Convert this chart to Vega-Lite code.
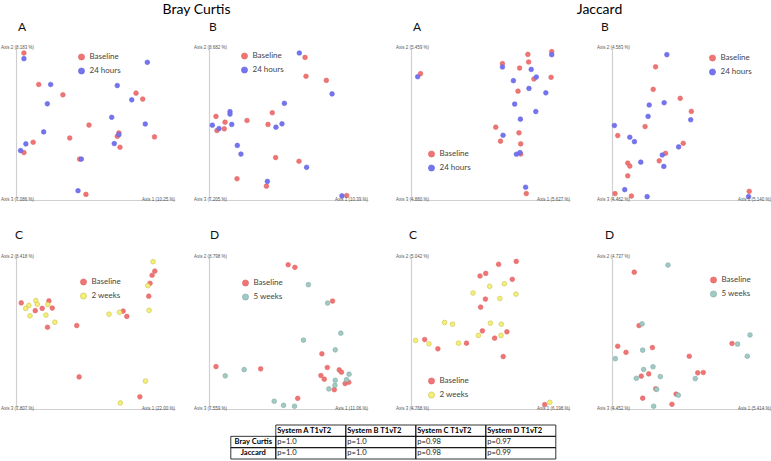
{
"$schema":"https://vega.github.io/schema/vega-lite/v6.json",
"padding":{"left":1,"top":3,"right":0,"bottom":0},
"background":"white",
"config":{
 "view":{"stroke":null},
 "axis":{"domainColor":"#d0d0d0","domainWidth":1.2,"ticks":false,"labels":false,"grid":false},
 "title":{"anchor":"start","frame":"group","font":"Lato","fontSize":12,"fontWeight":"normal","offset":11,"color":"#111"},
 "legend":{"orient":"none","title":null,"symbolType":"circle","symbolSize":38,"symbolStrokeWidth":0,"labelFont":"Lato","labelFontSize":8,"labelColor":"#444","rowPadding":4,"padding":0,"labelOffset":4},
 "text":{"font":"Liberation Sans","fontSize":4.5,"fill":"#555","baseline":"middle"},
 "circle":{"size":22,"opacity":1,"strokeWidth":0.6}
},
"datasets":{
 "bca":[{"x":4.98,"y":96.7,"g":"Baseline"},{"x":14.3,"y":76.0,"g":"Baseline"},{"x":29.5,"y":69.2,"g":"Baseline"},{"x":75.5,"y":70.3,"g":"Baseline"},{"x":79.7,"y":66.4,"g":"Baseline"},{"x":45.9,"y":49.3,"g":"Baseline"},{"x":64.7,"y":44.1,"g":"Baseline"},{"x":63.7,"y":41.9,"g":"Baseline"},{"x":33.8,"y":40.8,"g":"Baseline"},{"x":10.8,"y":38.0,"g":"Baseline"},{"x":87.1,"y":41.5,"g":"Baseline"},{"x":65.4,"y":34.7,"g":"Baseline"},{"x":5.0,"y":31.2,"g":"Baseline"},{"x":40.0,"y":26.9,"g":"Baseline"},{"x":44.0,"y":3.7,"g":"Baseline"},
  {"x":5.0,"y":93.0,"g":"24 hours"},{"x":21.8,"y":76.0,"g":"24 hours"},{"x":82.6,"y":90.6,"g":"24 hours"},{"x":63.7,"y":75.3,"g":"24 hours"},{"x":72.8,"y":65.9,"g":"24 hours"},{"x":19.7,"y":63.3,"g":"24 hours"},{"x":60.2,"y":54.4,"g":"24 hours"},{"x":81.3,"y":50.0,"g":"24 hours"},{"x":17.4,"y":44.8,"g":"24 hours"},{"x":64.7,"y":43.0,"g":"24 hours"},{"x":6.2,"y":36.9,"g":"24 hours"},{"x":61.8,"y":37.1,"g":"24 hours"},{"x":2.9,"y":32.5,"g":"24 hours"},{"x":41.1,"y":26.9,"g":"24 hours"},{"x":39.0,"y":6.1,"g":"24 hours"}],
 "bcb":[{"x":60.4,"y":93.8,"g":"Baseline"},{"x":61.0,"y":81.4,"g":"Baseline"},{"x":73.8,"y":78.7,"g":"Baseline"},{"x":4.4,"y":55.0,"g":"Baseline"},{"x":39.8,"y":57.4,"g":"Baseline"},{"x":23.9,"y":52.3,"g":"Baseline"},{"x":10.1,"y":51.2,"g":"Baseline"},{"x":37.1,"y":49.7,"g":"Baseline"},{"x":9.6,"y":46.8,"g":"Baseline"},{"x":5.0,"y":45.7,"g":"Baseline"},{"x":41.9,"y":27.9,"g":"Baseline"},{"x":56.6,"y":25.5,"g":"Baseline"},{"x":17.6,"y":14.0,"g":"Baseline"},{"x":36.1,"y":9.1,"g":"Baseline"},{"x":86.6,"y":2.9,"g":"Baseline"},
  {"x":56.8,"y":96.7,"g":"24 hours"},{"x":77.4,"y":69.8,"g":"24 hours"},{"x":47.4,"y":63.6,"g":"24 hours"},{"x":13.2,"y":58.1,"g":"24 hours"},{"x":13.2,"y":56.5,"g":"24 hours"},{"x":2.1,"y":49.2,"g":"24 hours"},{"x":14.3,"y":49.7,"g":"24 hours"},{"x":6.3,"y":47.0,"g":"24 hours"},{"x":42.1,"y":47.9,"g":"24 hours"},{"x":45.9,"y":50.1,"g":"24 hours"},{"x":17.8,"y":35.9,"g":"24 hours"},{"x":20.1,"y":30.2,"g":"24 hours"},{"x":61.4,"y":21.5,"g":"24 hours"},{"x":36.7,"y":12.2,"g":"24 hours"},{"x":83.6,"y":2.7,"g":"24 hours"}],
 "ja":[{"x":73.5,"y":95.8,"g":"Baseline"},{"x":88.5,"y":97.6,"g":"Baseline"},{"x":57.5,"y":89.7,"g":"Baseline"},{"x":74.0,"y":90.8,"g":"Baseline"},{"x":68.3,"y":86.8,"g":"Baseline"},{"x":77.3,"y":79.6,"g":"Baseline"},{"x":88.1,"y":80.7,"g":"Baseline"},{"x":6.0,"y":83.1,"g":"Baseline"},{"x":67.3,"y":71.6,"g":"Baseline"},{"x":53.3,"y":47.9,"g":"Baseline"},{"x":67.9,"y":44.2,"g":"Baseline"},{"x":56.3,"y":38.7,"g":"Baseline"},{"x":69.0,"y":36.9,"g":"Baseline"},{"x":69.0,"y":30.3,"g":"Baseline"},{"x":72.5,"y":4.2,"g":"Baseline"},
  {"x":88.5,"y":95.6,"g":"24 hours"},{"x":57.5,"y":87.5,"g":"24 hours"},{"x":75.6,"y":85.9,"g":"24 hours"},{"x":78.8,"y":80.9,"g":"24 hours"},{"x":64.4,"y":78.5,"g":"24 hours"},{"x":4.2,"y":81.1,"g":"24 hours"},{"x":74.2,"y":73.4,"g":"24 hours"},{"x":84.8,"y":70.5,"g":"24 hours"},{"x":65.2,"y":63.1,"g":"24 hours"},{"x":78.5,"y":58.2,"g":"24 hours"},{"x":68.8,"y":53.2,"g":"24 hours"},{"x":57.9,"y":42.6,"g":"24 hours"},{"x":68.5,"y":31.2,"g":"24 hours"},{"x":66.3,"y":30.1,"g":"24 hours"},{"x":72.1,"y":8.4,"g":"24 hours"}],
 "jb":[{"x":27.4,"y":87.6,"g":"Baseline"},{"x":25.9,"y":72.8,"g":"Baseline"},{"x":42.9,"y":66.9,"g":"Baseline"},{"x":49.9,"y":58.3,"g":"Baseline"},{"x":20.8,"y":48.3,"g":"Baseline"},{"x":3.6,"y":42.4,"g":"Baseline"},{"x":44.8,"y":37.3,"g":"Baseline"},{"x":33.7,"y":30.7,"g":"Baseline"},{"x":29.7,"y":25.8,"g":"Baseline"},{"x":9.9,"y":24.3,"g":"Baseline"},{"x":11.2,"y":22.3,"g":"Baseline"},{"x":9.9,"y":15.9,"g":"Baseline"},{"x":1.9,"y":4.2,"g":"Baseline"},{"x":12.2,"y":2.6,"g":"Baseline"},{"x":86.3,"y":5.7,"g":"Baseline"},
  {"x":34.5,"y":95.6,"g":"24 hours"},{"x":32.8,"y":64.0,"g":"24 hours"},{"x":23.4,"y":62.5,"g":"24 hours"},{"x":22.7,"y":55.0,"g":"24 hours"},{"x":49.5,"y":52.8,"g":"24 hours"},{"x":1.5,"y":49.0,"g":"24 hours"},{"x":11.2,"y":41.3,"g":"24 hours"},{"x":14.1,"y":38.4,"g":"24 hours"},{"x":41.9,"y":34.9,"g":"24 hours"},{"x":31.6,"y":29.6,"g":"24 hours"},{"x":18.1,"y":24.9,"g":"24 hours"},{"x":32.6,"y":22.1,"g":"24 hours"},{"x":8.0,"y":6.8,"g":"24 hours"},{"x":22.1,"y":2.2,"g":"24 hours"},{"x":85.9,"y":2.2,"g":"24 hours"}],
 "bcc":[{"x":3.3,"y":69.8,"g":"Baseline"},{"x":20.7,"y":71.1,"g":"Baseline"},{"x":12.1,"y":64.7,"g":"Baseline"},{"x":16.5,"y":66.2,"g":"Baseline"},{"x":22.8,"y":66.4,"g":"Baseline"},{"x":19.8,"y":53.8,"g":"Baseline"},{"x":38.2,"y":54.9,"g":"Baseline"},{"x":87.3,"y":90.7,"g":"Baseline"},{"x":85.6,"y":88.0,"g":"Baseline"},{"x":84.3,"y":82.7,"g":"Baseline"},{"x":83.5,"y":74.2,"g":"Baseline"},{"x":67.4,"y":64.4,"g":"Baseline"},{"x":69.7,"y":60.9,"g":"Baseline"},{"x":39.7,"y":21.1,"g":"Baseline"},{"x":77.9,"y":8.0,"g":"Baseline"},
  {"x":86.2,"y":96.9,"g":"2 weeks"},{"x":82.9,"y":81.1,"g":"2 weeks"},{"x":83.7,"y":64.9,"g":"2 weeks"},{"x":8.1,"y":68.2,"g":"2 weeks"},{"x":6.1,"y":66.2,"g":"2 weeks"},{"x":12.5,"y":71.3,"g":"2 weeks"},{"x":13.4,"y":68.9,"g":"2 weeks"},{"x":20.0,"y":68.7,"g":"2 weeks"},{"x":8.8,"y":61.3,"g":"2 weeks"},{"x":18.8,"y":61.8,"g":"2 weeks"},{"x":24.4,"y":57.1,"g":"2 weeks"},{"x":58.5,"y":62.4,"g":"2 weeks"},{"x":65.1,"y":63.6,"g":"2 weeks"},{"x":81.4,"y":18.4,"g":"2 weeks"},{"x":65.6,"y":4.0,"g":"2 weeks"}],
 "bcd":[{"x":49.8,"y":94.9,"g":"Baseline"},{"x":54.0,"y":93.2,"g":"Baseline"},{"x":77.7,"y":71.0,"g":"Baseline"},{"x":71.0,"y":36.3,"g":"Baseline"},{"x":74.4,"y":27.3,"g":"Baseline"},{"x":81.9,"y":25.7,"g":"Baseline"},{"x":83.3,"y":24.2,"g":"Baseline"},{"x":70.4,"y":22.0,"g":"Baseline"},{"x":72.5,"y":19.6,"g":"Baseline"},{"x":85.6,"y":16.7,"g":"Baseline"},{"x":87.9,"y":17.6,"g":"Baseline"},{"x":78.8,"y":12.7,"g":"Baseline"},{"x":4.4,"y":27.9,"g":"Baseline"},{"x":32.5,"y":26.4,"g":"Baseline"},{"x":55.8,"y":7.0,"g":"Baseline"},
  {"x":62.5,"y":81.8,"g":"5 weeks"},{"x":74.6,"y":69.7,"g":"5 weeks"},{"x":82.9,"y":49.9,"g":"5 weeks"},{"x":59.4,"y":45.3,"g":"5 weeks"},{"x":79.4,"y":38.9,"g":"5 weeks"},{"x":22.1,"y":25.9,"g":"5 weeks"},{"x":10.2,"y":21.8,"g":"5 weeks"},{"x":88.1,"y":22.9,"g":"5 weeks"},{"x":86.5,"y":19.3,"g":"5 weeks"},{"x":79.4,"y":18.9,"g":"5 weeks"},{"x":79.2,"y":15.6,"g":"5 weeks"},{"x":75.4,"y":13.2,"g":"5 weeks"},{"x":41.0,"y":5.1,"g":"5 weeks"},{"x":46.9,"y":2.4,"g":"5 weeks"},{"x":53.8,"y":1.8,"g":"5 weeks"}],
 "jc":[{"x":55.1,"y":95.2,"g":"Baseline"},{"x":66.2,"y":97.1,"g":"Baseline"},{"x":43.4,"y":87.5,"g":"Baseline"},{"x":47.0,"y":89.2,"g":"Baseline"},{"x":63.7,"y":85.3,"g":"Baseline"},{"x":46.8,"y":72.3,"g":"Baseline"},{"x":43.8,"y":67.0,"g":"Baseline"},{"x":44.9,"y":51.4,"g":"Baseline"},{"x":60.3,"y":50.8,"g":"Baseline"},{"x":52.6,"y":46.6,"g":"Baseline"},{"x":58.0,"y":34.5,"g":"Baseline"},{"x":8.6,"y":45.7,"g":"Baseline"},{"x":16.9,"y":39.6,"g":"Baseline"},{"x":34.9,"y":43.3,"g":"Baseline"},{"x":84.1,"y":2.9,"g":"Baseline"},
  {"x":49.5,"y":80.7,"g":"2 weeks"},{"x":58.7,"y":82.4,"g":"2 weeks"},{"x":39.0,"y":76.3,"g":"2 weeks"},{"x":66.0,"y":75.6,"g":"2 weeks"},{"x":55.9,"y":72.7,"g":"2 weeks"},{"x":21.1,"y":56.9,"g":"2 weeks"},{"x":26.1,"y":55.8,"g":"2 weeks"},{"x":49.9,"y":56.5,"g":"2 weeks"},{"x":56.8,"y":55.8,"g":"2 weeks"},{"x":42.4,"y":48.4,"g":"2 weeks"},{"x":56.6,"y":48.4,"g":"2 weeks"},{"x":2.9,"y":45.1,"g":"2 weeks"},{"x":11.3,"y":42.9,"g":"2 weeks"},{"x":29.9,"y":43.3,"g":"2 weeks"},{"x":87.3,"y":4.4,"g":"2 weeks"}],
 "jd":[{"x":14.0,"y":90.0,"g":"Baseline"},{"x":17.0,"y":54.9,"g":"Baseline"},{"x":3.6,"y":41.3,"g":"Baseline"},{"x":8.8,"y":37.3,"g":"Baseline"},{"x":25.4,"y":40.4,"g":"Baseline"},{"x":48.6,"y":34.7,"g":"Baseline"},{"x":75.5,"y":43.1,"g":"Baseline"},{"x":53.9,"y":23.8,"g":"Baseline"},{"x":57.4,"y":24.0,"g":"Baseline"},{"x":18.4,"y":21.6,"g":"Baseline"},{"x":23.1,"y":23.1,"g":"Baseline"},{"x":27.5,"y":13.3,"g":"Baseline"},{"x":19.3,"y":7.1,"g":"Baseline"},{"x":40.3,"y":9.8,"g":"Baseline"},{"x":37.7,"y":3.1,"g":"Baseline"},
  {"x":35.2,"y":94.7,"g":"5 weeks"},{"x":18.9,"y":56.0,"g":"5 weeks"},{"x":86.8,"y":48.7,"g":"5 weeks"},{"x":79.0,"y":42.7,"g":"5 weeks"},{"x":85.1,"y":34.7,"g":"5 weeks"},{"x":19.3,"y":38.7,"g":"5 weeks"},{"x":2.1,"y":33.1,"g":"5 weeks"},{"x":19.9,"y":26.0,"g":"5 weeks"},{"x":25.8,"y":27.8,"g":"5 weeks"},{"x":30.4,"y":21.3,"g":"5 weeks"},{"x":15.3,"y":20.2,"g":"5 weeks"},{"x":52.4,"y":20.0,"g":"5 weeks"},{"x":28.1,"y":12.9,"g":"5 weeks"},{"x":41.7,"y":9.1,"g":"5 weeks"},{"x":26.2,"y":1.8,"g":"5 weeks"}],
 "tbl":[{"col":"A","row":"hdr","t":"System A T1vT2"},{"col":"B","row":"hdr","t":"System B T1vT2"},{"col":"C","row":"hdr","t":"System C T1vT2"},{"col":"D","row":"hdr","t":"System D T1vT2"},
  {"col":"A","row":"Bray Curtis","t":"p=1.0"},{"col":"B","row":"Bray Curtis","t":"p=1.0"},{"col":"C","row":"Bray Curtis","t":"p=0.98"},{"col":"D","row":"Bray Curtis","t":"p=0.97"},
  {"col":"A","row":"Jaccard","t":"p=1.0"},{"col":"B","row":"Jaccard","t":"p=1.0"},{"col":"C","row":"Jaccard","t":"p=0.98"},{"col":"D","row":"Jaccard","t":"p=0.99"}]
},
"vconcat":[
 {"hconcat":[
  {"title":{"text":"Bray Curtis","anchor":"middle","frame":"bounds","fontSize":14,"offset":4,"dx":12,"color":"#000"},
   "vconcat":[
    {"hconcat":[
     {"width":159,"height":152,"title":{"text":"A","dx":2},
      "layer":[
       {"data":{"name":"bca"},"mark":"circle","encoding":{
        "x":{"field":"x","type":"quantitative","scale":{"domain":[0,100],"nice":false,"zero":false},"axis":{"title":null}},
        "y":{"field":"y","type":"quantitative","scale":{"domain":[0,100],"nice":false,"zero":false},"axis":{"title":null}},
        "color":{"field":"g","type":"nominal","scale":{"domain":["Baseline","24 hours"],"range":["#ef7474","#7474ee"]},"legend":{"legendX":61.5,"legendY":5}},
        "stroke":{"field":"g","type":"nominal","scale":{"domain":["Baseline","24 hours"],"range":["#e26666","#6666e0"]},"legend":null}}},
       {"data":{"values":[{"t":"Axis 2 (8.183 %)","v":100},{"t":"Axis 3 (7.086 %)","v":0}]},"mark":{"type":"text","align":"left","dx":-15},
        "encoding":{"x":{"datum":0,"type":"quantitative"},"y":{"field":"v","type":"quantitative"},"text":{"field":"t"}}},
       {"data":{"values":[{"t":"Axis 1 (10.25 %)"}]},"mark":{"type":"text","align":"right"},
        "encoding":{"x":{"datum":100,"type":"quantitative"},"y":{"datum":0,"type":"quantitative"},"text":{"field":"t"}}}
      ]},
     {"width":159,"height":152,"title":{"text":"B","dx":0},
      "layer":[
       {"data":{"name":"bcb"},"mark":"circle","encoding":{
        "x":{"field":"x","type":"quantitative","scale":{"domain":[0,100],"nice":false,"zero":false},"axis":{"title":null}},
        "y":{"field":"y","type":"quantitative","scale":{"domain":[0,100],"nice":false,"zero":false},"axis":{"title":null}},
        "color":{"field":"g","type":"nominal","scale":{"domain":["Baseline","24 hours"],"range":["#ef7474","#7474ee"]},"legend":{"legendX":31.5,"legendY":4}},
        "stroke":{"field":"g","type":"nominal","scale":{"domain":["Baseline","24 hours"],"range":["#e26666","#6666e0"]},"legend":null}}},
       {"data":{"values":[{"t":"Axis 2 (8.682 %)","v":100},{"t":"Axis 3 (7.205 %)","v":0}]},"mark":{"type":"text","align":"left","dx":-15},
        "encoding":{"x":{"datum":0,"type":"quantitative"},"y":{"field":"v","type":"quantitative"},"text":{"field":"t"}}},
       {"data":{"values":[{"t":"Axis 1 (10.39 %)"}]},"mark":{"type":"text","align":"right"},
        "encoding":{"x":{"datum":100,"type":"quantitative"},"y":{"datum":0,"type":"quantitative"},"text":{"field":"t"}}}
      ]}
    ],"spacing":34,"bounds":"flush","resolve":{"scale":{"color":"independent","stroke":"independent"},"legend":{"color":"independent","stroke":"independent"}}},
    {"hconcat":[
     {"width":159,"height":152,"title":{"text":"C","dx":-1,"offset":12},
      "layer":[
       {"data":{"name":"bcc"},"mark":"circle","encoding":{
        "x":{"field":"x","type":"quantitative","scale":{"domain":[0,100],"nice":false,"zero":false},"axis":{"title":null}},
        "y":{"field":"y","type":"quantitative","scale":{"domain":[0,100],"nice":false,"zero":false},"axis":{"title":null}},
        "color":{"field":"g","type":"nominal","scale":{"domain":["Baseline","2 weeks"],"range":["#ef7474","#f4ef78"]},"legend":{"legendX":63.5,"legendY":21}},
        "stroke":{"field":"g","type":"nominal","scale":{"domain":["Baseline","2 weeks"],"range":["#e26666","#c9c24a"]},"legend":null}}},
       {"data":{"values":[{"t":"Axis 2 (8.418 %)","v":100},{"t":"Axis 3 (7.807 %)","v":0}]},"mark":{"type":"text","align":"left","dx":-15},
        "encoding":{"x":{"datum":0,"type":"quantitative"},"y":{"field":"v","type":"quantitative"},"text":{"field":"t"}}},
       {"data":{"values":[{"t":"Axis 1 (22.00 %)"}]},"mark":{"type":"text","align":"right"},
        "encoding":{"x":{"datum":100,"type":"quantitative"},"y":{"datum":0,"type":"quantitative"},"text":{"field":"t"}}}
      ]},
     {"width":159,"height":152,"title":{"text":"D","dx":1,"offset":12},
      "layer":[
       {"data":{"name":"bcd"},"mark":"circle","encoding":{
        "x":{"field":"x","type":"quantitative","scale":{"domain":[0,100],"nice":false,"zero":false},"axis":{"title":null}},
        "y":{"field":"y","type":"quantitative","scale":{"domain":[0,100],"nice":false,"zero":false},"axis":{"title":null}},
        "color":{"field":"g","type":"nominal","scale":{"domain":["Baseline","5 weeks"],"range":["#ef7474","#a2cac5"]},"legend":{"legendX":32.5,"legendY":22}},
        "stroke":{"field":"g","type":"nominal","scale":{"domain":["Baseline","5 weeks"],"range":["#e26666","#80aaa4"]},"legend":null}}},
       {"data":{"values":[{"t":"Axis 2 (8.798 %)","v":100},{"t":"Axis 3 (7.559 %)","v":0}]},"mark":{"type":"text","align":"left","dx":-15},
        "encoding":{"x":{"datum":0,"type":"quantitative"},"y":{"field":"v","type":"quantitative"},"text":{"field":"t"}}},
       {"data":{"values":[{"t":"Axis 1 (11.06 %)"}]},"mark":{"type":"text","align":"right"},
        "encoding":{"x":{"datum":100,"type":"quantitative"},"y":{"datum":0,"type":"quantitative"},"text":{"field":"t"}}}
      ]}
    ],"spacing":34,"bounds":"flush","resolve":{"scale":{"color":"independent","stroke":"independent"},"legend":{"color":"independent","stroke":"independent"}}}
   ],"spacing":27,"resolve":{"scale":{"color":"independent","stroke":"independent"},"legend":{"color":"independent","stroke":"independent"}}},
  {"title":{"text":"Jaccard","anchor":"middle","frame":"bounds","fontSize":14,"offset":4,"dx":16,"color":"#000"},
   "vconcat":[
    {"hconcat":[
     {"width":159,"height":152,"title":{"text":"A","dx":2},
      "layer":[
       {"data":{"name":"ja"},"mark":"circle","encoding":{
        "x":{"field":"x","type":"quantitative","scale":{"domain":[0,100],"nice":false,"zero":false},"axis":{"title":null}},
        "y":{"field":"y","type":"quantitative","scale":{"domain":[0,100],"nice":false,"zero":false},"axis":{"title":null}},
        "color":{"field":"g","type":"nominal","scale":{"domain":["Baseline","24 hours"],"range":["#ef7474","#7474ee"]},"legend":{"legendX":16.5,"legendY":102}},
        "stroke":{"field":"g","type":"nominal","scale":{"domain":["Baseline","24 hours"],"range":["#e26666","#6666e0"]},"legend":null}}},
       {"data":{"values":[{"t":"Axis 2 (5.459 %)","v":100},{"t":"Axis 3 (4.880 %)","v":0}]},"mark":{"type":"text","align":"left","dx":-15},
        "encoding":{"x":{"datum":0,"type":"quantitative"},"y":{"field":"v","type":"quantitative"},"text":{"field":"t"}}},
       {"data":{"values":[{"t":"Axis 1 (5.627 %)"}]},"mark":{"type":"text","align":"right"},
        "encoding":{"x":{"datum":100,"type":"quantitative"},"y":{"datum":0,"type":"quantitative"},"text":{"field":"t"}}}
      ]},
     {"width":159,"height":152,"title":{"text":"B","dx":-11},
      "layer":[
       {"data":{"name":"jb"},"mark":"circle","encoding":{
        "x":{"field":"x","type":"quantitative","scale":{"domain":[0,100],"nice":false,"zero":false},"axis":{"title":null}},
        "y":{"field":"y","type":"quantitative","scale":{"domain":[0,100],"nice":false,"zero":false},"axis":{"title":null}},
        "color":{"field":"g","type":"nominal","scale":{"domain":["Baseline","24 hours"],"range":["#ef7474","#7474ee"]},"legend":{"legendX":96.5,"legendY":6}},
        "stroke":{"field":"g","type":"nominal","scale":{"domain":["Baseline","24 hours"],"range":["#e26666","#6666e0"]},"legend":null}}},
       {"data":{"values":[{"t":"Axis 2 (4.583 %)","v":100},{"t":"Axis 3 (4.462 %)","v":0}]},"mark":{"type":"text","align":"left","dx":-15},
        "encoding":{"x":{"datum":0,"type":"quantitative"},"y":{"field":"v","type":"quantitative"},"text":{"field":"t"}}},
       {"data":{"values":[{"t":"Axis 1 (5.140 %)"}]},"mark":{"type":"text","align":"right"},
        "encoding":{"x":{"datum":100,"type":"quantitative"},"y":{"datum":0,"type":"quantitative"},"text":{"field":"t"}}}
      ]}
    ],"spacing":42,"bounds":"flush","resolve":{"scale":{"color":"independent","stroke":"independent"},"legend":{"color":"independent","stroke":"independent"}}},
    {"hconcat":[
     {"width":159,"height":152,"title":{"text":"C","dx":-2,"offset":12},
      "layer":[
       {"data":{"name":"jc"},"mark":"circle","encoding":{
        "x":{"field":"x","type":"quantitative","scale":{"domain":[0,100],"nice":false,"zero":false},"axis":{"title":null}},
        "y":{"field":"y","type":"quantitative","scale":{"domain":[0,100],"nice":false,"zero":false},"axis":{"title":null}},
        "color":{"field":"g","type":"nominal","scale":{"domain":["Baseline","2 weeks"],"range":["#ef7474","#f4ef78"]},"legend":{"legendX":16.5,"legendY":120}},
        "stroke":{"field":"g","type":"nominal","scale":{"domain":["Baseline","2 weeks"],"range":["#e26666","#c9c24a"]},"legend":null}}},
       {"data":{"values":[{"t":"Axis 2 (5.042 %)","v":100},{"t":"Axis 3 (4.768 %)","v":0}]},"mark":{"type":"text","align":"left","dx":-15},
        "encoding":{"x":{"datum":0,"type":"quantitative"},"y":{"field":"v","type":"quantitative"},"text":{"field":"t"}}},
       {"data":{"values":[{"t":"Axis 1 (6.198 %)"}]},"mark":{"type":"text","align":"right"},
        "encoding":{"x":{"datum":100,"type":"quantitative"},"y":{"datum":0,"type":"quantitative"},"text":{"field":"t"}}}
      ]},
     {"width":159,"height":152,"title":{"text":"D","dx":-7,"offset":12},
      "layer":[
       {"data":{"name":"jd"},"mark":"circle","encoding":{
        "x":{"field":"x","type":"quantitative","scale":{"domain":[0,100],"nice":false,"zero":false},"axis":{"title":null}},
        "y":{"field":"y","type":"quantitative","scale":{"domain":[0,100],"nice":false,"zero":false},"axis":{"title":null}},
        "color":{"field":"g","type":"nominal","scale":{"domain":["Baseline","5 weeks"],"range":["#ef7474","#a2cac5"]},"legend":{"legendX":97.5,"legendY":19}},
        "stroke":{"field":"g","type":"nominal","scale":{"domain":["Baseline","5 weeks"],"range":["#e26666","#80aaa4"]},"legend":null}}},
       {"data":{"values":[{"t":"Axis 2 (4.737 %)","v":100},{"t":"Axis 3 (4.452 %)","v":0}]},"mark":{"type":"text","align":"left","dx":-15},
        "encoding":{"x":{"datum":0,"type":"quantitative"},"y":{"field":"v","type":"quantitative"},"text":{"field":"t"}}},
       {"data":{"values":[{"t":"Axis 1 (5.414 %)"}]},"mark":{"type":"text","align":"right"},
        "encoding":{"x":{"datum":100,"type":"quantitative"},"y":{"datum":0,"type":"quantitative"},"text":{"field":"t"}}}
      ]}
    ],"spacing":42,"bounds":"flush","resolve":{"scale":{"color":"independent","stroke":"independent"},"legend":{"color":"independent","stroke":"independent"}}}
   ],"spacing":27,"resolve":{"scale":{"color":"independent","stroke":"independent"},"legend":{"color":"independent","stroke":"independent"}}}
 ],"spacing":28,"resolve":{"scale":{"color":"independent","stroke":"independent"},"legend":{"color":"independent","stroke":"independent"}}},
 {"hconcat":[
  {"width":45,"height":34,"data":{"values":[{"row":"Bray Curtis"},{"row":"Jaccard"}]},
   "encoding":{"y":{"field":"row","type":"nominal","scale":{"domain":["hdr","Bray Curtis","Jaccard"],"paddingInner":0,"paddingOuter":0},"axis":null}},
   "layer":[
    {"mark":{"type":"rect","fill":"transparent","stroke":"#000","strokeWidth":0.8}},
    {"mark":{"type":"text","font":"Lato","fontSize":7.6,"fontWeight":"bold","fill":"#000","align":"center"},"encoding":{"text":{"field":"row"}}}
   ]},
  {"width":280,"height":34,"data":{"name":"tbl"},
   "encoding":{
    "x":{"field":"col","type":"nominal","scale":{"paddingInner":0,"paddingOuter":0},"axis":null},
    "y":{"field":"row","type":"nominal","scale":{"domain":["hdr","Bray Curtis","Jaccard"],"paddingInner":0,"paddingOuter":0},"axis":null}},
   "layer":[
    {"mark":{"type":"rect","fill":"transparent","stroke":"#000","strokeWidth":0.8}},
    {"transform":[{"filter":"datum.row == 'hdr'"}],"mark":{"type":"text","font":"Lato","fontSize":7.6,"fontWeight":"bold","fill":"#000","align":"left","dx":1.5},
     "encoding":{"x":{"field":"col","type":"nominal","bandPosition":0},"text":{"field":"t"}}},
    {"transform":[{"filter":"datum.row != 'hdr'"}],"mark":{"type":"text","font":"Lato","fontSize":7.6,"fill":"#222","align":"left","dx":1.5},
     "encoding":{"x":{"field":"col","type":"nominal","bandPosition":0},"text":{"field":"t"}}}
   ]}
 ],"spacing":0,"bounds":"flush"}
],
"spacing":13,"center":true
}
